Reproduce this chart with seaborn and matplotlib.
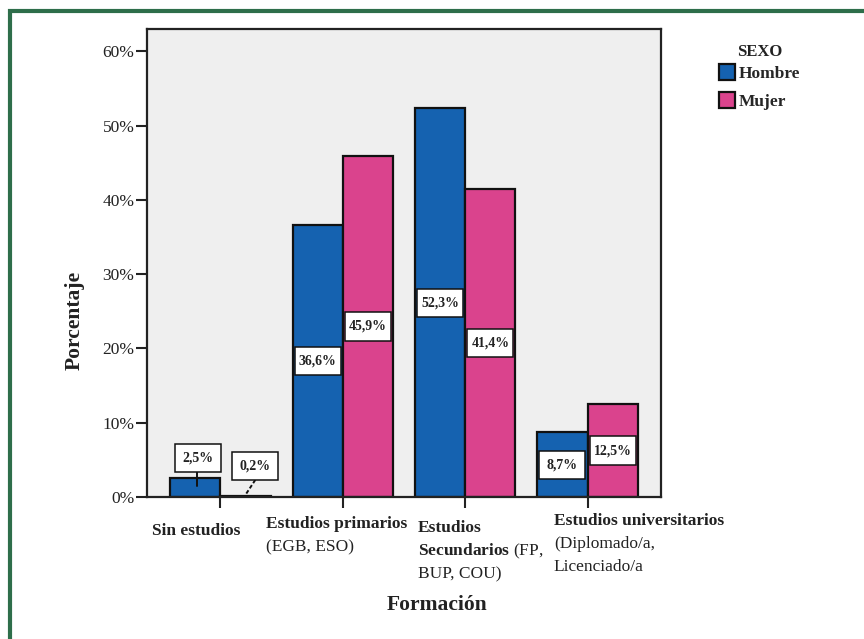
import matplotlib
matplotlib.use("Agg")
import matplotlib.pyplot as plt
import matplotlib.transforms as mtransforms
from matplotlib.patches import Rectangle
import pandas as pd
import seaborn as sns

# Data
categorias = ["Sin estudios", "Estudios primarios", "Estudios secundarios",
              "Estudios universitarios"]
sexos = ["Hombre", "Mujer"]
hombre = [2.5, 36.6, 52.3, 8.7]
mujer = [0.2, 45.9, 41.4, 12.5]
yticks = [0, 10, 20, 30, 40, 50, 60]

# Multi-line category labels: (text, weight); mathtext mixes bold and regular
etiquetas_x = [
    [("Sin estudios", "bold")],
    [("Estudios primarios", "bold"), ("(EGB, ESO)", "normal")],
    [("Estudios", "bold"), (r"$\mathbf{Secundarios}$ (FP,", "normal"),
     ("BUP, COU)", "normal")],
    [("Estudios universitarios", "bold"), ("(Diplomado/a,", "normal"),
     ("Licenciado/a", "normal")],
]

colores = {"Hombre": "#1562b0", "Mujer": "#da438d"}

df = pd.DataFrame({
    "Formación": categorias * 2,
    "Porcentaje": hombre + mujer,
    "SEXO": ["Hombre"] * len(categorias) + ["Mujer"] * len(categorias),
})

sns.set_theme(style="white")
plt.rcParams["font.family"] = ["Liberation Serif", "DejaVu Serif"]
plt.rcParams["mathtext.fontset"] = "custom"
plt.rcParams["mathtext.rm"] = "Liberation Serif"
plt.rcParams["mathtext.bf"] = "Liberation Serif:bold"

W, H = 864, 639
fig = plt.figure(figsize=(W / 100, H / 100), dpi=100)
fig.patch.set_facecolor("white")

def fx(px):
    return px / W

def fy(py):
    return 1 - py / H

ax = fig.add_axes([fx(147), fy(497), fx(661) - fx(147), fy(29) - fy(497)])
ax.set_facecolor("#efefef")

sns.barplot(data=df, x="Formación", y="Porcentaje", hue="SEXO",
            hue_order=sexos, order=categorias, palette=colores,
            width=0.82, edgecolor="#111111", linewidth=1.6,
            saturation=1, ax=ax, legend=True)

ax.set_xlim(-0.6, 3.6)
ax.set_ylim(0, 63)
ax.set_yticks(yticks)
ax.set_yticklabels([f"{v}%" for v in yticks], fontsize=12.5, color="#222222")
ax.set_xticks(range(len(categorias)))
ax.set_xticklabels([])
ax.tick_params(axis="both", direction="out", length=8, width=1.5,
               color="#222222", pad=1, bottom=True, left=True)
ax.set_xlabel("")
ax.set_ylabel("")
for s in ax.spines.values():
    s.set_visible(True)
    s.set_color("#222222")
    s.set_linewidth(1.6)

# Value boxes on the bars
box_w, box_h = 0.376, 3.8
callouts = {(0, 0): (0.02, 5.3), (1, 0): (0.08, 4.2)}
for h_idx, cont in enumerate(ax.containers):
    for c_idx, bar in enumerate(cont):
        val = bar.get_height()
        cx = bar.get_x() + bar.get_width() / 2
        key = (h_idx, c_idx)
        if key in callouts:
            dx, cy = callouts[key]
            bx = cx + dx
            if h_idx == 0:
                ax.plot([bx - 0.01, bx - 0.01], [cy - box_h / 2, val - 1.0],
                        color="#111111", lw=1.4, zorder=5)
            else:
                ax.plot([bx, cx], [cy - box_h / 2, val + 0.1],
                        color="#111111", lw=1.4, ls=(0, (2, 1.2)), zorder=5)
        else:
            bx, cy = cx, val / 2
        ax.add_patch(Rectangle((bx - box_w / 2, cy - box_h / 2), box_w, box_h,
                               facecolor="white", edgecolor="#111111",
                               lw=1.1, zorder=6))
        ax.text(bx, cy, f"{val:.1f}%".replace(".", ","), ha="center",
                va="center", fontsize=10, fontweight="bold",
                color="#222222", zorder=7)

# Category labels below the axis
trans = mtransforms.blended_transform_factory(ax.transData, fig.transFigure)
starts = [(-0.559, 531), (0.373, 524), (1.614, 528), (2.725, 521)]
for (x0, y0), lines in zip(starts, etiquetas_x):
    for k, (txt, wt) in enumerate(lines):
        ax.text(x0, fy(y0 + 23 * k), txt, transform=trans, ha="left",
                va="center", fontsize=12.5, fontweight=wt, color="#222222",
                clip_on=False)

# Axis titles
fig.text(fx(75), fy(320), "Porcentaje", rotation=90, ha="center",
         va="center", fontsize=15.5, fontweight="bold", color="#222222")
fig.text(fx(437), fy(605), "Formación", ha="center", va="center",
         fontsize=15.5, fontweight="bold", color="#222222")

# Legend
fig.text(fx(760), fy(52), "SEXO", ha="center", va="center", fontsize=12,
         fontweight="bold", color="#222222")
handles, labels = ax.get_legend_handles_labels()
ax.legend(handles, labels, loc="upper left",
          bbox_to_anchor=(fx(719), fy(64)), bbox_transform=fig.transFigure,
          frameon=False, handlelength=0.95, handleheight=1.05,
          handletextpad=0.2, labelspacing=0.55, borderaxespad=0,
          borderpad=0, prop={"weight": "bold", "size": 12.5})

# Green frame around the figure
fig.add_artist(Rectangle((fx(9.5), fy(700)), fx(1000), fy(10.5) - fy(700),
                         transform=fig.transFigure, fill=False,
                         edgecolor="#2e6e4a", lw=3))

fig.savefig("out.png", dpi=100)
